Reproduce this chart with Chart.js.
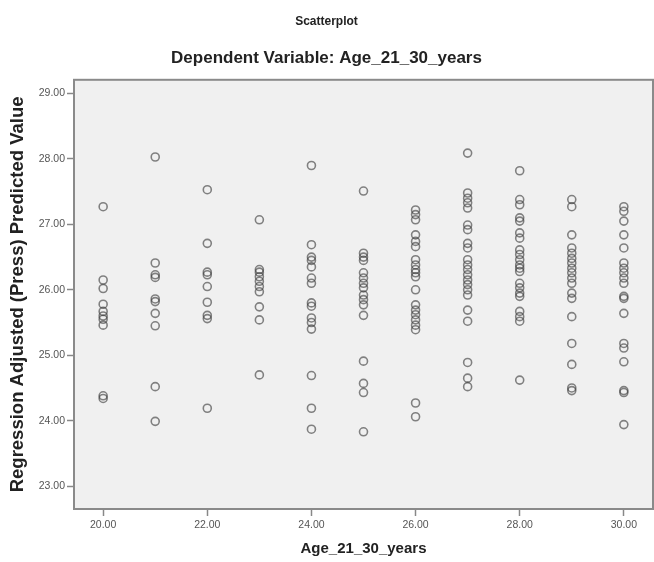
<!DOCTYPE html>
<html>
<head>
<meta charset="utf-8">
<script src="https://cdn.jsdelivr.net/npm/chart.js@4/dist/chart.umd.min.js"></script>
<style>
html,body{margin:0;padding:0;background:#fff;}
#wrap{width:654px;height:562px;}
</style>
</head>
<body>
<div id="wrap"><canvas id="c" width="654" height="562"></canvas></div>
<script>
const chartTitle = "Scatterplot";
const chartSubtitle = "Dependent Variable: Age_21_30_years";
const xTitle = "Age_21_30_years";
const yTitle = "Regression Adjusted (Press) Predicted Value";

const ages = [20, 21, 22, 23, 24, 25, 26, 27, 28, 29, 30];
const pred20 = [27.27, 26.15, 26.02, 25.78, 25.67, 25.60, 25.55, 25.46, 24.38, 24.34];
const pred21 = [28.03, 26.41, 26.23, 26.19, 25.86, 25.82, 25.64, 25.45, 24.52, 23.99];
const pred22 = [27.53, 26.71, 26.27, 26.23, 26.05, 25.81, 25.61, 25.56, 24.19];
const pred23 = [27.07, 26.31, 26.27, 26.20, 26.13, 26.05, 25.97, 25.74, 25.54, 24.70];
const pred24 = [27.90, 26.69, 26.50, 26.45, 26.35, 26.18, 26.10, 25.80, 25.75, 25.57, 25.50, 25.40, 24.69, 24.19, 23.87];
const pred25 = [27.51, 26.56, 26.50, 26.45, 26.26, 26.18, 26.10, 26.03, 25.92, 25.85, 25.77, 25.61, 24.91, 24.57, 24.43, 23.83];
const pred26 = [27.22, 27.15, 27.07, 26.84, 26.74, 26.66, 26.46, 26.38, 26.31, 26.26, 26.20, 26.00, 25.77, 25.69, 25.62, 25.54, 25.46, 25.39, 24.27, 24.06];
const pred27 = [28.09, 27.48, 27.40, 27.33, 27.25, 26.99, 26.92, 26.71, 26.64, 26.46, 26.38, 26.31, 26.23, 26.15, 26.08, 26.00, 25.92, 25.69, 25.52, 24.89, 24.65, 24.52];
const pred28 = [27.82, 27.38, 27.30, 27.10, 27.05, 26.87, 26.79, 26.61, 26.54, 26.46, 26.38, 26.33, 26.28, 26.10, 26.03, 25.95, 25.90, 25.67, 25.59, 25.52, 24.62];
const pred29 = [27.38, 27.27, 26.84, 26.64, 26.56, 26.48, 26.41, 26.33, 26.26, 26.18, 26.10, 25.95, 25.87, 25.59, 25.18, 24.86, 24.50, 24.46];
const pred30 = [27.27, 27.20, 27.05, 26.84, 26.64, 26.41, 26.33, 26.26, 26.18, 26.10, 25.90, 25.87, 25.64, 25.18, 25.11, 24.90, 24.46, 24.43, 23.94];

const xTicks = [20, 22, 24, 26, 28, 30];
const yTicks = [23, 24, 25, 26, 27, 28, 29];

const columns = [pred20, pred21, pred22, pred23, pred24, pred25, pred26, pred27, pred28, pred29, pred30];
const points = [];
ages.forEach((a, i) => columns[i].forEach(v => points.push({x: a, y: v})));

const plotBg = {
  id: 'plotBg',
  beforeDraw(chart) {
    const {ctx, chartArea: a} = chart;
    ctx.save();
    ctx.fillStyle = '#f0f0f0';
    ctx.fillRect(a.left, a.top, a.right - a.left, a.bottom - a.top);
    ctx.restore();
  },
  afterDraw(chart) {
    const {ctx, chartArea: a} = chart;
    ctx.save();
    ctx.strokeStyle = '#8a8a8a';
    ctx.lineWidth = 2;
    ctx.strokeRect(a.left, a.top, a.right - a.left, a.bottom - a.top);
    ctx.restore();
  }
};

const FONT = 'Liberation Sans, Arial, sans-serif';

new Chart(document.getElementById('c'), {
  type: 'scatter',
  data: {
    datasets: [{
      data: points,
      pointStyle: 'circle',
      pointRadius: 4,
      pointBorderWidth: 1.6,
      pointBorderColor: 'rgba(60,60,60,0.62)',
      pointBackgroundColor: 'rgba(0,0,0,0)'
    }]
  },
  options: {
    responsive: false,
    animation: false,
    events: [],
    layout: {autoPadding: false, padding: {left: 0, right: 1, top: 0, bottom: 0}},
    plugins: {
      legend: {display: false},
      tooltip: {enabled: false},
      title: {
        display: true, text: chartTitle, color: '#222',
        font: {family: FONT, size: 12, weight: 'bold'},
        padding: {top: 14, bottom: 20}
      },
      subtitle: {
        display: true, text: chartSubtitle, color: '#222',
        font: {family: FONT, size: 17, weight: 'bold'},
        padding: {top: 0, bottom: 11}
      }
    },
    scales: {
      x: {
        type: 'linear', min: 19.44, max: 30.56,
        afterBuildTicks: s => { s.ticks = xTicks.map(v => ({value: v})); },
        afterFit: s => { s.height = 53; s.paddingLeft = 0; s.paddingRight = 0; },
        grid: {drawOnChartArea: false, drawTicks: true, tickLength: 7, tickColor: '#888', tickWidth: 1.5},
        border: {display: false},
        ticks: {
          color: '#555', padding: 3,
          font: {family: FONT, size: 10.5},
          callback: v => Number(v).toFixed(2), maxRotation: 0, autoSkip: false
        },
        title: {
          display: true, text: xTitle, color: '#222',
          font: {family: FONT, size: 15, weight: 'bold'},
          padding: {top: 4, bottom: 4}
        }
      },
      y: {
        type: 'linear', min: 22.65, max: 29.21,
        afterBuildTicks: s => { s.ticks = yTicks.map(v => ({value: v})); },
        afterFit: s => { s.width = 74; s.paddingTop = 0; s.paddingBottom = 0; },
        grid: {drawOnChartArea: false, drawTicks: true, tickLength: 7, tickColor: '#888', tickWidth: 1.5},
        border: {display: false},
        ticks: {
          color: '#555', padding: 2,
          font: {family: FONT, size: 10.5},
          callback: v => Number(v).toFixed(2), autoSkip: false
        },
        title: {
          display: true, text: yTitle, color: '#222',
          font: {family: FONT, size: 18.5, weight: 'bold'},
          padding: {top: 7, bottom: 2}
        }
      }
    }
  },
  plugins: [plotBg]
});
</script>
</body>
</html>
